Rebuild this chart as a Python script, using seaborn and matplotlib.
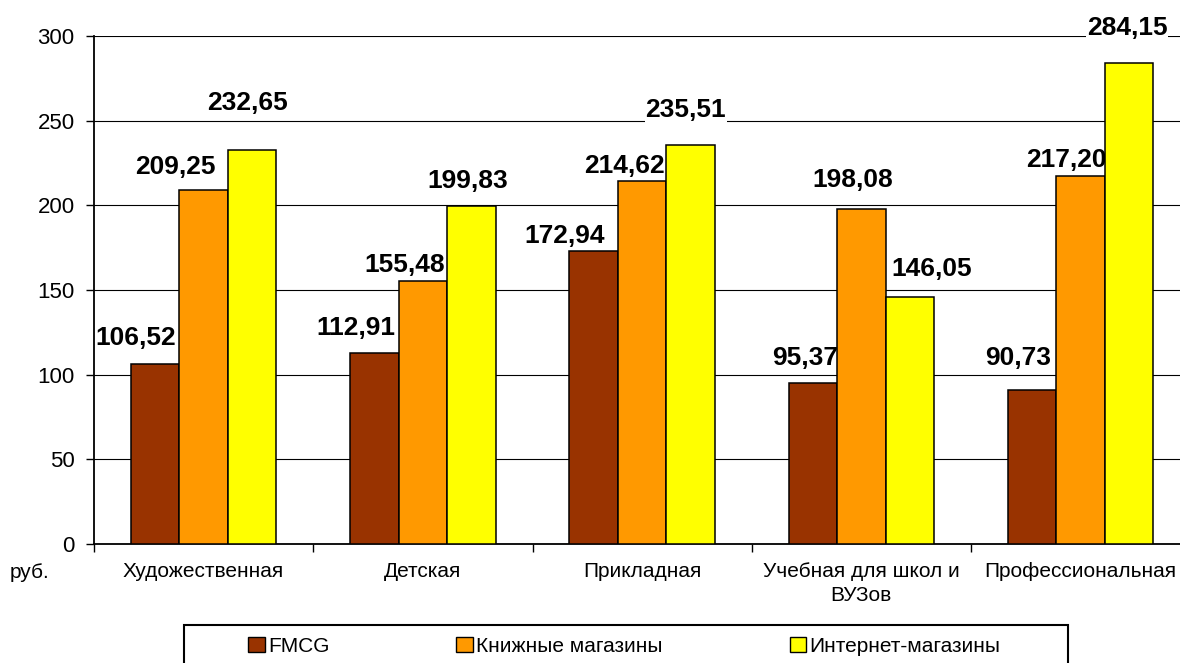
import pandas as pd
import seaborn as sns
import matplotlib.pyplot as plt
from matplotlib.patches import Patch, Rectangle

# categories and series (руб.)
categories = ["Художественная", "Детская", "Прикладная", "Учебная для школ и\nВУЗов", "Профессиональная"]
series_names = ["FMCG", "Книжные магазины", "Интернет-магазины"]
fmcg = [106.52, 112.91, 172.94, 95.37, 90.73]
books = [209.25, 155.48, 214.62, 198.08, 217.20]
internet = [232.65, 199.83, 235.51, 146.05, 284.15]
yticks = [0, 50, 100, 150, 200, 250, 300]

colors = ["#993300", "#FF9900", "#FFFF00"]

# label offsets from bar top (pixels, right / up), as placed in the original
label_offsets = [
    [(-19, 26), (-18, 25), (-29, 15), (-8, 25), (-14, 32)],
    [(-28, 23), (-18, 16), (-18, 15), (-9, 29), (-14, 16)],
    [(-5, 47), (-4, 25), (-5, 35), (22, 28), (-2, 35)],
]

rows = []
for name, vals in zip(series_names, [fmcg, books, internet]):
    for cat, v in zip(categories, vals):
        rows.append({"Категория": cat, "Канал": name, "Значение": v})
data = pd.DataFrame(rows)

sns.set_theme(style="white")
plt.rcParams["font.family"] = ["Liberation Sans", "DejaVu Sans"]
plt.rcParams["text.color"] = "black"
plt.rcParams["xtick.color"] = "black"
plt.rcParams["ytick.color"] = "black"

fig = plt.figure(figsize=(11.8, 6.63), dpi=100)
ax = fig.add_axes([94 / 1180, 1 - 544 / 663, 1096.25 / 1180, 508 / 663])

sns.barplot(data=data, x="Категория", y="Значение", hue="Канал", palette=colors,
            order=categories, hue_order=series_names, width=0.664, gap=0,
            edgecolor="black", linewidth=1.1, saturation=1, zorder=3, legend=False, ax=ax)

for ci, container in enumerate(ax.containers):
    for bi, bar in enumerate(container):
        v = bar.get_height()
        dx, dy = label_offsets[ci][bi]
        ax.annotate(f"{v:.2f}".replace(".", ","),
                    xy=(bar.get_x() + bar.get_width() / 2, v),
                    xytext=(dx, dy), textcoords="offset pixels",
                    ha="center", va="center", fontsize=19, fontweight="bold", color="black",
                    bbox=dict(facecolor="white", edgecolor="none", pad=0.5), zorder=2)

ax.set_xlim(-0.5, 4.5)
ax.set_ylim(0, 300)
ax.set_yticks(yticks)
ax.yaxis.grid(True, color="black", linewidth=0.8, zorder=0)
ax.set_axisbelow(True)
ax.set_xlabel("")
ax.set_ylabel("")

for s in ["top", "right"]:
    ax.spines[s].set_visible(False)
for s in ["left", "bottom"]:
    ax.spines[s].set_color("black")
    ax.spines[s].set_linewidth(1.3)

ax.tick_params(axis="y", direction="out", length=6, width=1, color="black", pad=8,
               labelsize=16, labelcolor="black", left=True)
ax.set_xticks(range(len(categories)))
ax.set_xticklabels(categories, fontsize=15, linespacing=1.3, color="black")
ax.tick_params(axis="x", which="major", length=0, pad=13)
ax.set_xticks([i - 0.5 for i in range(len(categories) + 1)], minor=True)
ax.tick_params(axis="x", which="minor", direction="out", length=6, width=1, color="black", bottom=True)

fig.text(10 / 1180, 1 - 573 / 663, "руб.", fontsize=15, ha="left", va="center", color="black")

handles = [Patch(facecolor=c, edgecolor="black", linewidth=1) for c in colors]
fig.legend(handles, series_names, loc="center left", bbox_to_anchor=(248 / 1180, 1 - 646 / 663),
           ncol=3, frameon=False, fontsize=15, handlelength=0.8, handleheight=0.7,
           handletextpad=0.15, columnspacing=6.1, borderpad=0, borderaxespad=0,
           labelcolor="black")
fig.add_artist(Rectangle((184 / 1180, -0.02), (1068 - 184) / 1180, 0.02 + 38 / 663,
                         transform=fig.transFigure, fill=False, edgecolor="black", linewidth=1.5))

fig.savefig("out.png", dpi=100)
